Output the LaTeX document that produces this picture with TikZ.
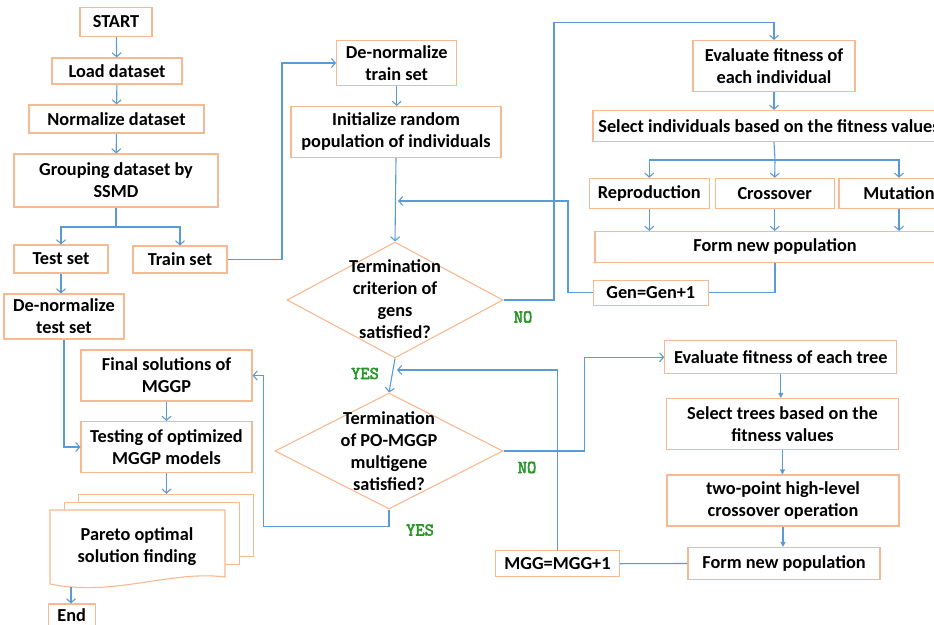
\documentclass[tikz,border=0pt]{standalone}
\usepackage{fontspec}
\setmainfont{Carlito}
\newfontfamily\monob[FakeBold=3]{Latin Modern Mono}
\usetikzlibrary{arrows.meta,shapes.geometric}
\definecolor{lineblue}{RGB}{91,155,213}
\definecolor{boxor}{RGB}{246,185,145}
\definecolor{yesgreen}{RGB}{40,150,40}
\begin{document}
\begin{tikzpicture}[x=1pt,y=-1pt,
  bx/.style={draw=boxor,line width=1.1pt,fill=white,align=center,inner sep=0pt,font=\fontsize{18.3}{22}\selectfont\bfseries},
  txt/.style={align=center,inner sep=0pt,font=\fontsize{18.3}{22}\selectfont\bfseries},
  dia/.style={draw=boxor,line width=1.1pt,shape=diamond,inner sep=0pt},
  ln/.style={draw=lineblue,line width=1.1pt},
  arr/.style={ln,-{Straight Barb[length=4pt,width=9pt]}},
  farr/.style={ln,-{Triangle[length=5pt,width=5pt]}},
  lbl/.style={text=yesgreen,inner sep=0pt,font=\monob\fontsize{18}{20}\selectfont}
]
\useasboundingbox (0,0) rectangle (934,624);
\clip (0,0) rectangle (934,624);

% left column
\node[bx,minimum width=72,minimum height=29] (start) at (116,22) {START};
\node[bx,minimum width=130,minimum height=26] (load) at (117,71) {Load dataset};
\node[bx,minimum width=175,minimum height=28] (norm) at (116.5,119) {Normalize dataset};
\node[bx,minimum width=204,minimum height=53] (group) at (116,180.5) {Grouping dataset by\\SSMD};
\node[bx,minimum width=94,minimum height=28] (test) at (61,259) {Test set};
\node[bx,minimum width=94,minimum height=27] (train) at (180,259.5) {Train set};
\node[bx,minimum width=120,minimum height=45] (dtest) at (64,316.5) {De-normalize\\test set};
\node[bx,minimum width=171,minimum height=51] (final) at (166.5,375.5) {Final solutions of\\MGGP};
\node[bx,minimum width=171,minimum height=51] (testing) at (166.5,447) {Testing of optimized\\MGGP models};

% pareto multi-document
\node[bx,minimum width=175,minimum height=62.4] (pb) at (165.8,525.5) {};
\node[bx,minimum width=175,minimum height=61.7] (pm) at (151.8,533.2) {};
\coordinate (pfa) at (50,510);
\coordinate (pfb) at (225,510);
\coordinate (pfc) at (225,577);
\coordinate (pfd) at (50,584);
\filldraw[draw=boxor,fill=white,line width=1.1pt] (pfd) -- (pfa) -- (pfb) -- (pfc)
  .. controls (170,570) and (115,597) .. (pfd);
\node[txt] (pareto) at (137,547) {Pareto optimal\\solution finding};
\coordinate (pf) at (71,587);
\node[bx,minimum width=47,minimum height=28] (end) at (71.7,618) {};
\node[txt] (endt) at (71.7,615.5) {End};

% middle column
\node[bx,minimum width=120,minimum height=45] (dtrain) at (396.7,63) {De-normalize\\train set};
\node[bx,minimum width=210,minimum height=51] (init) at (396,132) {Initialize random\\population of individuals};
\node[dia,minimum width=216,minimum height=116] (d1) at (395,300) {};
\node[txt] (d1t) at (395,299.5) {Termination\\criterion of\\gens\\satisfied?};
\node[dia,minimum width=228,minimum height=116] (d2) at (389,451) {};
\node[txt] (d2t) at (389,451) {Termination\\of PO-MGGP\\multigene\\satisfied?};

% right top
\node[bx,minimum width=162,minimum height=51] (evali) at (774,66) {Evaluate fitness of\\each individual};
\node[bx,minimum width=352,minimum height=31] (seli) at (769,126) {Select individuals based on the fitness values};
\node[bx,minimum width=120,minimum height=30] (repro) at (649.3,193.3) {Reproduction};
\node[bx,minimum width=119,minimum height=30] (cross) at (774.7,193.3) {Crossover};
\node[bx,minimum width=120,minimum height=30] (mut) at (899,193.3) {Mutation};
\node[bx,minimum width=360,minimum height=31] (formi) at (775,247) {Form new population};
\node[bx,minimum width=115,minimum height=25] (gen) at (650.8,292.8) {Gen=Gen+1};

% right bottom
\node[bx,minimum width=232,minimum height=33] (evalt) at (780.8,357.3) {Evaluate fitness of each tree};
\node[bx,minimum width=232,minimum height=51] (selt) at (782.5,424) {Select trees based on the\\fitness values};
\node[bx,minimum width=232,minimum height=51] (twop) at (783,500.5) {two-point high-level\\crossover operation};
\node[bx,minimum width=192,minimum height=32] (formt) at (784,563.5) {Form new population};
\node[bx,minimum width=124,minimum height=26] (mgg) at (557.5,563.7) {MGG=MGG+1};

% labels
\node[lbl] (no1) at (523,317) {NO};
\node[lbl] (yes1) at (365,373.5) {YES};
\node[lbl] (no2) at (527,467.5) {NO};
\node[lbl] (yes2) at (420,530) {YES};

% coordinates
\coordinate (sp) at (116,227);
\coordinate (c1) at (282,63);
\coordinate (cno) at (554,22.7);
\coordinate (sb) at (775,160);
\coordinate (gl) at (568,201);
\coordinate (glend) at (398,201);
\coordinate (cno2) at (584.3,357.3);
\coordinate (cy) at (263.3,526.7);
\coordinate (ml) at (557.5,370);
\coordinate (mlend) at (397,370);

% connectors left
\draw[arr] (start) -- (load);
\draw[arr] (load) -- (norm);
\draw[arr] (norm) -- (group);
\draw[ln] (group.south) -- (sp);
\draw[arr] (sp) -| (test.north);
\draw[arr] (sp) -| (train.north);
\draw[arr] (test.south) -- (test.south |- dtest.north);
\draw[arr] (dtest.south) |- (testing.west);
\draw[arr] (final) -- (testing);
\draw[arr] (testing.south) -- (testing.south |- pb.north);
\draw[arr] (pf) -- (pf |- end.north);
\draw[arr] (train.east) -| (c1) -- (dtrain.west);

% middle connectors
\draw[arr] (dtrain.south) -- (dtrain.south |- init.north);
\draw[arr] (init.south) -- (d1.north);
\draw[arr] (d1.east) -| (cno) -| (evali.north);
\draw[arr] (d1.south) -- (d2.north);
\draw[arr] (d2.east) -| (cno2) -- (evalt.west);
\draw[arr] (d2.south) |- (cy) |- (final.east);

% right top connectors
\draw[arr] (evali.south) -- (evali.south |- seli.north);
\draw[ln] (evali.south |- seli.south) -- (sb);
\draw[arr] (sb) -| (repro.north);
\draw[arr] (sb) -- (cross.north);
\draw[arr] (sb) -| (mut.north);
\draw[arr] (repro.south) -- (repro.south |- formi.north);
\draw[arr] (cross.south) -- (cross.south |- formi.north);
\draw[arr] (mut.south) -- (mut.south |- formi.north);
\draw[ln] (formi.south) |- (gen.east);
\draw[arr] (gen.west) -| (gl) -- (glend);

% right bottom connectors
\draw[farr] (evalt.south) -- (evalt.south |- selt.north);
\draw[farr] (selt.south) -- (selt.south |- twop.north);
\draw[farr] (twop.south) -- (twop.south |- formt.north);
\draw[ln] (formt.west) -- (mgg.east);
\draw[arr] (mgg.north) -- (ml) -- (mlend);
\end{tikzpicture}
\end{document}
